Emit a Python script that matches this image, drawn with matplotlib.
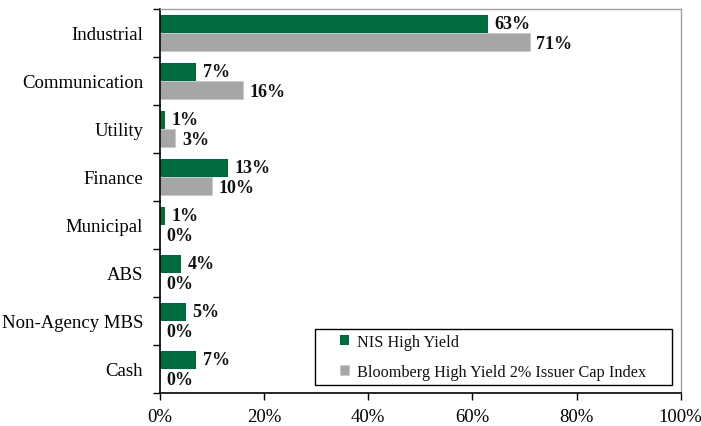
import matplotlib
matplotlib.use("Agg")
import matplotlib.pyplot as plt
from matplotlib.patches import Rectangle
import numpy as np
from matplotlib.ticker import FuncFormatter

categories = ["Industrial", "Communication", "Utility", "Finance", "Municipal", "ABS", "Non-Agency MBS", "Cash"]
nis = [63, 7, 1, 13, 1, 4, 5, 7]
bbg = [71, 16, 3, 10, 0, 0, 0, 0]
series_names = ["NIS High Yield", "Bloomberg High Yield 2% Issuer Cap Index"]
xticks = [0, 20, 40, 60, 80, 100]

plt.rcParams['font.family'] = ['Liberation Serif', 'DejaVu Serif']

fig = plt.figure(figsize=(7.01, 4.27), dpi=100)
ax = fig.add_axes([0.228, 0.0773, 0.743, 0.8993])

green = "#006B3C"
gray = "#A6A6A6"
y = np.arange(len(categories))
h = 0.385
ax.barh(y - h/2, nis, height=h, color=green, label=series_names[0])
ax.barh(y + h/2, bbg, height=h, color=gray, label=series_names[1], edgecolor="#C8C8C8", linewidth=0.6)

for i in range(len(categories)):
    ax.text(nis[i] + 1.3, y[i] - h/2, f"{nis[i]}%", va="center", ha="left", fontsize=13, fontweight="bold", color="#111111")
    ax.text(bbg[i] + 1.3, y[i] + h/2 + 0.03, f"{bbg[i]}%", va="center", ha="left", fontsize=13, fontweight="bold", color="#111111")

ax.set_ylim(len(categories) - 0.5, -0.5)
ax.set_xlim(0, 100)
ax.set_yticks(np.arange(len(categories) + 1) - 0.5, minor=False)
ax.set_yticklabels([])
ax.set_yticks(y, minor=True)
ax.set_yticklabels(categories, minor=True, fontsize=13.5)
ax.tick_params(axis="y", which="minor", length=0, pad=12)
ax.tick_params(axis="y", which="major", direction="out", length=5, width=1, color="black")
ax.set_xticks(xticks)
ax.xaxis.set_major_formatter(FuncFormatter(lambda v, p: f"{int(v)}%"))
ax.tick_params(axis="x", direction="out", length=5, width=1, labelsize=13.5, pad=6)

for s in ["left", "bottom"]:
    ax.spines[s].set_color("black")
    ax.spines[s].set_linewidth(1.2)
for s in ["top", "right"]:
    ax.spines[s].set_color("#A0A0A0")
    ax.spines[s].set_linewidth(1.0)

# legend frame drawn separately to match wider padding
frame = Rectangle((0.2975, 0.0208), 0.9827 - 0.2975, 0.1667 - 0.0208, transform=ax.transAxes,
                  facecolor="white", edgecolor="black", linewidth=1.0, zorder=4)
ax.add_patch(frame)
leg = ax.legend(loc="center", bbox_to_anchor=(0.640, 0.0938), fontsize=11.7, frameon=False,
                handlelength=0.55, handleheight=0.55, handletextpad=0.45,
                labelspacing=0.85, borderpad=0, borderaxespad=0)
leg.set_zorder(5)
for t in leg.get_texts():
    t.set_color("#111111")

fig.savefig("out.png", dpi=100)
